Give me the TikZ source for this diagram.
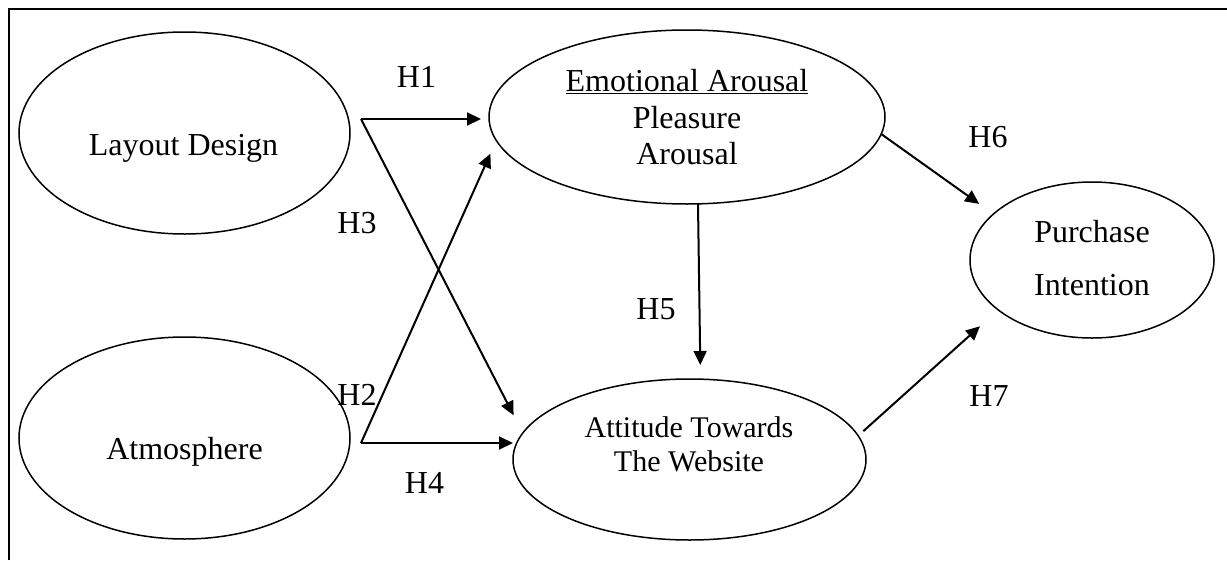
\documentclass[tikz,border=0pt]{standalone}
\usepackage{fontspec}
\setmainfont{Liberation Serif}
\usepackage{tikz}
\usetikzlibrary{shapes.geometric,arrows.meta,positioning}
\tikzstyle{arrow} = [
    line width=2pt,
    -{Triangle[length=14pt,width=13pt]}
]
\tikzstyle{frame} = [
    line width=1.5pt
]
\begin{document}
\begin{tikzpicture}[
                x=1pt, y=-1pt,
                construct/.style={
                    draw,
                    ellipse,
                    line width=1.5pt,
                    inner sep=0pt,
                    outer sep=0pt
                },
                ctext/.style={
                    align=center,
                    inner sep=0pt,
                    font=\fontsize{32}{36.5}\selectfont
                },
                hypo/.style={
                    inner sep=0pt,
                    font=\fontsize{32}{36}\selectfont
                }
            ]
                \useasboundingbox (0,0) rectangle (1227,560);
                \draw[frame] (9,560) -- (9,9) -- (1227,9);
                \node[construct, minimum width=331pt, minimum height=202pt] (LD) at (184.5,133) {};
                \node[construct, minimum width=331pt, minimum height=202pt] (AT) at (184.5,438) {};
                \node[construct, minimum width=396pt, minimum height=174pt] (EA) at (687,117) {};
                \node[construct, minimum width=353pt, minimum height=161pt] (AW) at (689.5,459.5) {};
                \node[construct, minimum width=244pt, minimum height=156pt] (PI) at (1092,260) {};
                \node[ctext, anchor=base] (LDtxt) at (183.5,155) {Layout Design};
                \node[ctext, anchor=base] (ATtxt) at (184.5,459) {Atmosphere};
                \node[ctext] (EAtxt) at (687,117.5) {\underline{Emotional Arousal}\\Pleasure\\Arousal};
                \node[ctext, font=\fontsize{30}{34}\selectfont] (AWtxt) at (689,444.75) {Attitude Towards\\The Website};
                \node[ctext, font=\fontsize{32}{53}\selectfont] (PItxt) at (1092,258.5) {Purchase\\Intention};
                \node[hypo] (H1) at (416.5,77) {H1};
                \node[hypo] (H2) at (357,395) {H2};
                \node[hypo] (H3) at (357,223) {H3};
                \node[hypo] (H4) at (424.5,483) {H4};
                \node[hypo] (H5) at (656,309) {H5};
                \node[hypo] (H6) at (988,137) {H6};
                \node[hypo] (H7) at (989,396) {H7};
                \coordinate (LDout) at (361,119);
                \coordinate (ATout) at (361,443);
                \draw[arrow, shorten >=8pt] (LDout) -- (LDout -| EA.west);
                \draw[arrow, shorten >=20pt] (LDout) -- (AW.171.6);
                \draw[arrow, shorten >=14.5pt] (ATout) -- (EA.-173.2);
                \draw[arrow] (ATout) -- (ATout -| AW.west);
                \draw[arrow, shorten >=14pt] ([xshift=11pt]EA.south) -- ([xshift=11pt]AW.north);
                \draw[arrow, shorten >=17.5pt] (EA.-5) -- (PI.155.2);
                \draw[arrow, shorten <=7pt, shorten >=24.5pt] (AW.8) -- (PI.-152.7);
            \end{tikzpicture}
\end{document}
